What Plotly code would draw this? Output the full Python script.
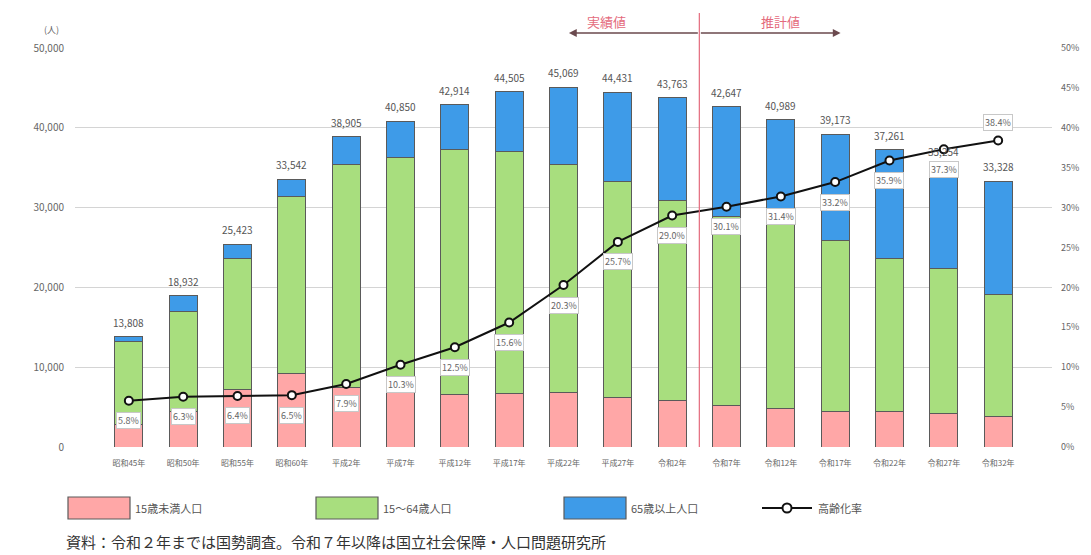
import plotly.graph_objects as go

years = ["昭和45年", "昭和50年", "昭和55年", "昭和60年", "平成2年", "平成7年", "平成12年", "平成17年",
         "平成22年", "平成27年", "令和2年", "令和7年", "令和12年", "令和17年", "令和22年", "令和27年", "令和32年"]
under15 = [2800, 4400, 7200, 9150, 7400, 7000, 6520, 6730, 6810, 6180, 5800, 5180, 4800, 4470, 4430, 4170, 3800]
age15_64 = [10360, 12530, 16360, 22180, 28060, 29340, 30700, 30360, 28650, 27150, 25150, 23720, 23300, 21470, 19250, 18260, 15250]
over65 = [650, 2000, 1860, 2210, 3450, 4510, 5690, 7420, 9610, 11100, 12810, 13750, 12890, 13230, 13580, 12820, 14280]
totals = [13808, 18932, 25423, 33542, 38905, 40850, 42914, 44505, 45069, 44431, 43763, 42647, 40989, 39173, 37261, 35254, 33328]
aging_rate = [5.8, 6.3, 6.4, 6.5, 7.9, 10.3, 12.5, 15.6, 20.3, 25.7, 29.0, 30.1, 31.4, 33.2, 35.9, 37.3, 38.4]

FONT = "Noto Sans CJK JP"
PINK, GREEN, BLUE = "#FFA7A7", "#A8DE7E", "#3E9BE8"
EDGE = "#5a5a5a"
PH = 399.0   # plot height in px
PW = 977.0   # plot width in px


def py(pix):
    return (447 - pix) / PH


def px(pix):
    return (pix - 75) / PW


fig = go.Figure()
for name, vals, col in [("15歳未満人口", under15, PINK), ("15～64歳人口", age15_64, GREEN), ("65歳以上人口", over65, BLUE)]:
    fig.add_trace(go.Bar(x=years, y=vals, name=name, marker=dict(color=col, line=dict(color=EDGE, width=1)),
                         width=0.52, hoverinfo="skip"))

fig.add_trace(go.Scatter(x=years, y=aging_rate, yaxis="y2", name="高齢化率", mode="lines+markers",
                         line=dict(color="#111", width=2),
                         marker=dict(symbol="circle", size=8, color="white", line=dict(color="#111", width=2))))

# total labels
for x, t in zip(years, totals):
    fig.add_annotation(x=x, y=t, text=f"{t:,}", showarrow=False, yanchor="bottom", yshift=5,
                       font=dict(size=10, color="#555", family=FONT))

# rate labels
for i, (x, r) in enumerate(zip(years, aging_rate)):
    last = i == len(years) - 1
    fig.add_annotation(x=x, y=r, yref="y2", text=f"{r:.1f}%", showarrow=False, yanchor="middle",
                       yshift=18 if last else -20, bgcolor="white", bordercolor="#c8c8c8", borderwidth=1,
                       borderpad=1, font=dict(size=9, color="#666", family=FONT))

# divider between actual and projected
fig.add_shape(type="line", xref="x", yref="paper", x0=10.5, x1=10.5, y0=0, y1=py(13),
              line=dict(color="#E46A7C", width=1.2))
fig.add_annotation(xref="x", yref="paper", x=8.1, y=py(33), ax=10.5, ay=0, axref="x", ayref="pixel",
                   text="", showarrow=True, arrowhead=2, arrowsize=1.2, arrowwidth=1.3, arrowcolor="#6b4a4e")
fig.add_annotation(xref="x", yref="paper", x=13.1, y=py(33), ax=10.5, ay=0, axref="x", ayref="pixel",
                   text="", showarrow=True, arrowhead=2, arrowsize=1.2, arrowwidth=1.3, arrowcolor="#6b4a4e")
fig.add_annotation(xref="x", yref="paper", x=8.8, y=py(22), text="実績値", showarrow=False, yanchor="middle",
                   font=dict(size=13, color="#E46A7C", family=FONT))
fig.add_annotation(xref="x", yref="paper", x=12.0, y=py(22), text="推計値", showarrow=False, yanchor="middle",
                   font=dict(size=13, color="#E46A7C", family=FONT))

# unit
fig.add_annotation(xref="paper", yref="paper", x=px(42), y=py(30), text="(人)", showarrow=False,
                   yanchor="middle", font=dict(size=9, color="#666", family=FONT))

# custom legend
legend_items = [(PINK, "15歳未満人口", 68), (GREEN, "15～64歳人口", 316), (BLUE, "65歳以上人口", 564)]
for col, label, lp in legend_items:
    fig.add_shape(type="rect", xref="paper", yref="paper", x0=px(lp), x1=px(lp + 62),
                  y0=py(519), y1=py(497), fillcolor=col, line=dict(color=EDGE, width=1.2))
    fig.add_annotation(xref="paper", yref="paper", x=px(lp + 65), y=py(508), text=label,
                       showarrow=False, xanchor="left", yanchor="middle",
                       font=dict(size=11, color="#555", family=FONT))
ly = py(508)
fig.add_shape(type="line", xref="paper", yref="paper", x0=px(762), x1=px(812), y0=ly, y1=ly,
              line=dict(color="#111", width=2))
fig.add_shape(type="circle", xref="paper", yref="paper", x0=px(787 - 4.5), x1=px(787 + 4.5),
              y0=py(512.5), y1=py(503.5), fillcolor="white", line=dict(color="#111", width=2))
fig.add_annotation(xref="paper", yref="paper", x=px(816), y=ly, text="高齢化率",
                   showarrow=False, xanchor="left", yanchor="middle",
                   font=dict(size=11, color="#555", family=FONT))

# caption
fig.add_annotation(xref="paper", yref="paper", x=px(64), y=py(541),
                   text="資料：令和２年までは国勢調査。令和７年以降は国立社会保障・人口問題研究所",
                   showarrow=False, xanchor="left", yanchor="middle",
                   font=dict(size=15, color="#333", family=FONT))

fig.update_layout(
    barmode="stack", width=1091, height=555, showlegend=False,
    margin=dict(l=75, r=39, t=48, b=108),
    paper_bgcolor="white", plot_bgcolor="white",
    font=dict(family=FONT, color="#666"),
    xaxis=dict(tickfont=dict(size=8, color="#666"), showgrid=False, showline=False, ticks="",
               ticklabelstandoff=10),
    yaxis=dict(range=[0, 50000], dtick=10000, tickformat=",d", showgrid=True, gridcolor="#d4d4d4",
               gridwidth=1, zeroline=False, tickfont=dict(size=10, color="#666"), ticklabelstandoff=10),
    yaxis2=dict(range=[0, 50], dtick=5, overlaying="y", side="right", showgrid=False, zeroline=False,
                ticksuffix="%", tickfont=dict(size=9, color="#666"), ticklabelstandoff=8),
)

fig.write_html("out.html")
